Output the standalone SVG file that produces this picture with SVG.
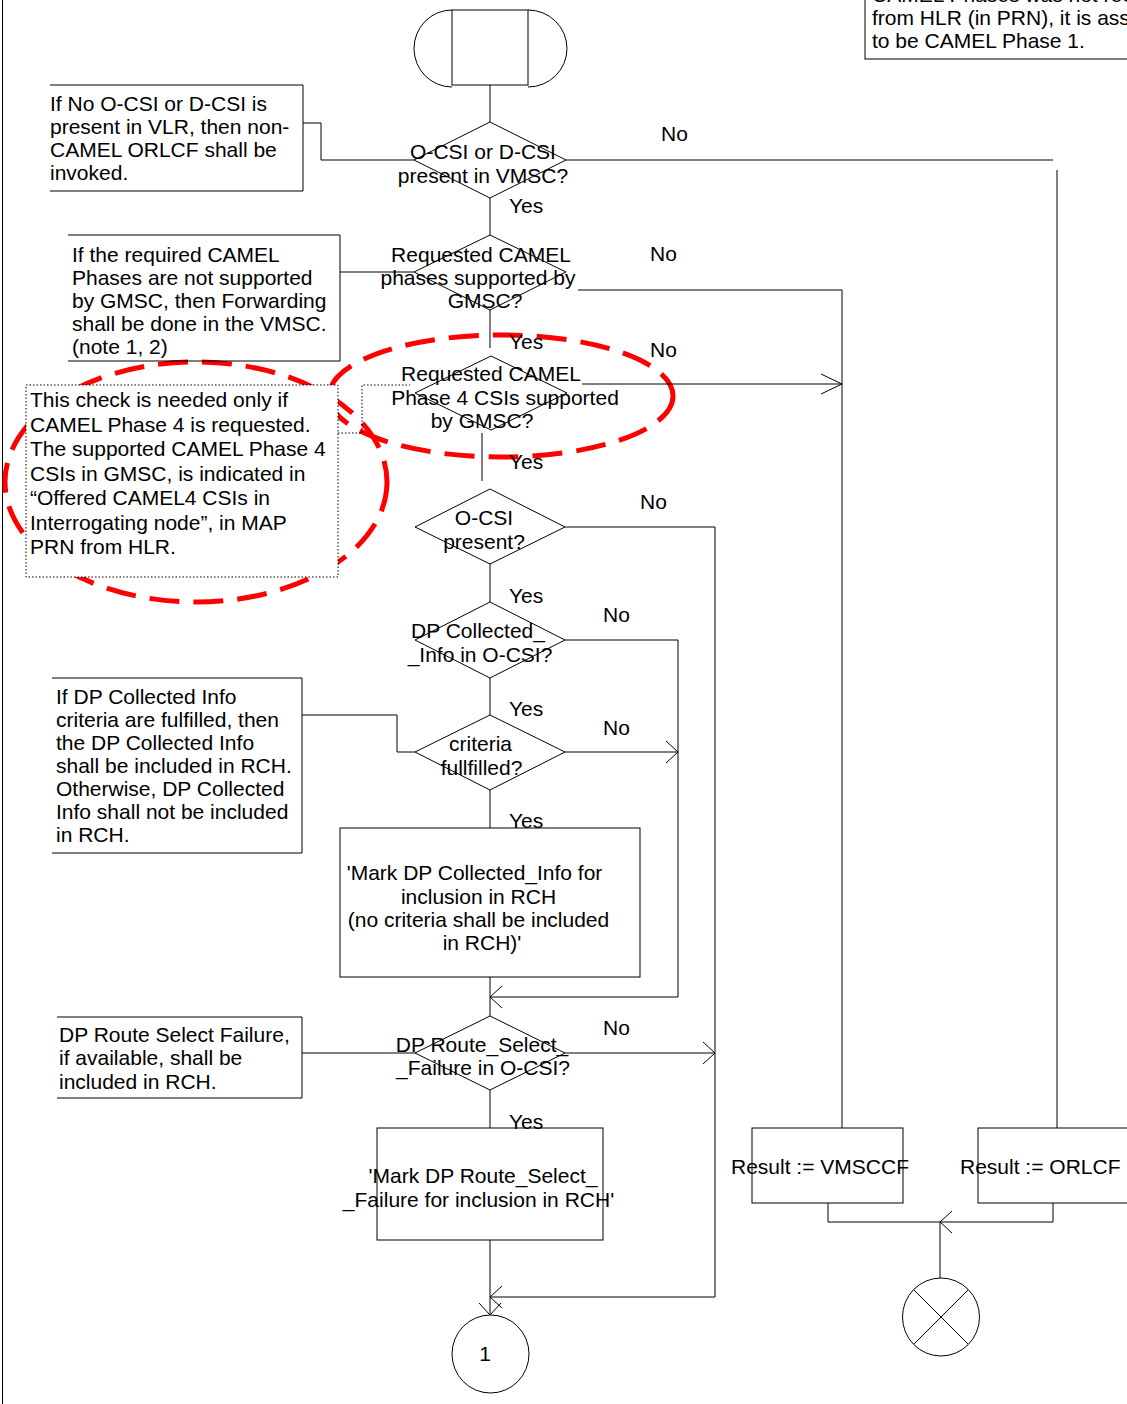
<svg xmlns="http://www.w3.org/2000/svg" width="1127" height="1404" viewBox="0 0 1127 1404">
<style>
text { font-family: "Liberation Sans", Arial, sans-serif; font-size: 21px; fill: #000; }
.m { text-anchor: middle; }
.s { fill: none; stroke: #000; stroke-width: 1; }
.dot { fill: #fff; stroke: #000; stroke-width: 1; stroke-dasharray: 1.5 2; }
.dotl { fill: none; stroke: #000; stroke-width: 1; stroke-dasharray: 1.5 2; }
.red { fill: none; stroke: #ff0000; stroke-width: 5; stroke-dasharray: 30 14; }
</style>
<defs>
<marker id="v" markerUnits="userSpaceOnUse" markerWidth="14" markerHeight="26" refX="12" refY="12" orient="auto"><path d="M0,1 L12,12 L0,23" fill="none" stroke="#000" stroke-width="1"/></marker>
<marker id="vb" markerUnits="userSpaceOnUse" markerWidth="24" markerHeight="24" refX="21" refY="11" orient="auto"><path d="M0,1 L21,11 L0,21" fill="none" stroke="#000" stroke-width="1"/></marker>
</defs>
<rect width="1127" height="1404" fill="#fff"/>
<line x1="2.5" y1="0" x2="2.5" y2="1404" class="s"/>

<g id="highlights">
<ellipse cx="501" cy="396" rx="172" ry="61" class="red"/>
<ellipse cx="196" cy="482" rx="191" ry="120" class="red"/>
</g>

<g id="connectors">
<path class="s" d="M490,85 V122"/>
<path class="s" d="M303,123 H321 V160 H414"/>
<path class="s" d="M566,160 H1053"/>
<path class="s" d="M1057,170 V1128"/>
<path class="s" d="M490,198 V235"/>
<path class="s" d="M340,272 H414"/>
<path class="s" d="M578,290 H842 V1128"/>
<path class="s" d="M490,310 V348"/>
<path class="s" d="M582,384 H842" marker-end="url(#vb)"/>
<path class="dotl" d="M338,433 H362 V385 H410"/>
<path class="s" d="M482,433 V481"/>
<path class="s" d="M565,527 H715 V1297 H490" marker-end="url(#v)"/>
<path class="s" d="M490,564 V602"/>
<path class="s" d="M565,640 H678 V997 H490" marker-end="url(#v)"/>
<path class="s" d="M490,678 V715"/>
<path class="s" d="M565,752 H678" marker-end="url(#v)"/>
<path class="s" d="M302,715 H397 V752 H415"/>
<path class="s" d="M490,790 V828"/>
<path class="s" d="M490,977 V1016"/>
<path class="s" d="M565,1053 H715" marker-end="url(#v)"/>
<path class="s" d="M302,1053 H415"/>
<path class="s" d="M490,1090 V1128"/>
<path class="s" d="M490,1240 V1315" marker-end="url(#v)"/>
<path class="s" d="M1053,1203 V1222 H940" marker-end="url(#v)"/>
<path class="s" d="M828,1203 V1222 H940 V1278"/>
</g>

<g id="labels">
<text x="661" y="141">No</text>
<text x="509" y="213">Yes</text>
<text x="650" y="261">No</text>
<text x="509" y="349">Yes</text>
<text x="650" y="357">No</text>
<text x="509" y="469">Yes</text>
<text x="640" y="509">No</text>
<text x="509" y="603">Yes</text>
<text x="603" y="622">No</text>
<text x="509" y="716">Yes</text>
<text x="603" y="735">No</text>
<text x="509" y="828">Yes</text>
<text x="603" y="1035">No</text>
<text x="509" y="1129">Yes</text>
</g>

<g id="start">
<rect x="452" y="10" width="76" height="75" class="s"/>
<path class="s" d="M452,10 A38,38.5 0 0 0 452,87"/>
<path class="s" d="M528,10 A39,38.5 0 0 1 528,87"/>
</g>

<g id="note-phase1">
<rect x="865" y="-80" width="300" height="139" class="s"/>
<text x="872" y="2">CAMEL Phases was not received</text>
<text x="872" y="25">from HLR (in PRN), it is assumed</text>
<text x="872" y="48">to be CAMEL Phase 1.</text>
</g>

<g id="note-ocsi">
<path class="s" d="M50,85 H303 V191 H50"/>
<text x="50" y="111">If No O-CSI or D-CSI is</text>
<text x="50" y="134">present in VLR, then non-</text>
<text x="50" y="157">CAMEL ORLCF shall be</text>
<text x="50" y="180">invoked.</text>
</g>

<g id="dec-csi">
<polygon class="s" points="490,122 566,160 490,198 414,160"/>
<text class="m" x="483" y="159">O-CSI or D-CSI</text>
<text class="m" x="483" y="183">present in VMSC?</text>
</g>

<g id="note-phases">
<path class="s" d="M68,235 H340 V361 H68"/>
<text x="72" y="262">If the required CAMEL</text>
<text x="72" y="285">Phases are not supported</text>
<text x="72" y="308">by GMSC, then Forwarding</text>
<text x="72" y="331">shall be done in the VMSC.</text>
<text x="72" y="354">(note 1, 2)</text>
</g>

<g id="dec-phases">
<polygon class="s" points="490,235 566,272 490,310 414,272"/>
<text class="m" x="481" y="262">Requested CAMEL</text>
<text class="m" x="478" y="285">phases supported by</text>
<text class="m" x="485" y="308">GMSC?</text>
</g>

<g id="note-check">
<rect x="26" y="385" width="312" height="192" class="dot"/>
<text x="30" y="407">This check is needed only if</text>
<text x="30" y="431.5">CAMEL Phase 4 is requested.</text>
<text x="30" y="456">The supported CAMEL Phase 4</text>
<text x="30" y="480.5">CSIs in GMSC, is indicated in</text>
<text x="30" y="505">“Offered CAMEL4 CSIs in</text>
<text x="30" y="529.5">Interrogating node”, in MAP</text>
<text x="30" y="554">PRN from HLR.</text>
</g>

<g id="dec-phase4">
<polygon class="s" points="491,356 567,393 491,430 415,393"/>
<text class="m" x="491" y="381">Requested CAMEL</text>
<text class="m" x="505" y="405">Phase 4 CSIs supported</text>
<text class="m" x="482" y="428">by GMSC?</text>
</g>

<g id="dec-ocsi">
<polygon class="s" points="490,489 565,527 490,564 415,527"/>
<text class="m" x="484" y="525">O-CSI</text>
<text class="m" x="484" y="549">present?</text>
</g>

<g id="dec-dpci">
<polygon class="s" points="490,602 565,640 490,678 415,640"/>
<text class="m" x="478" y="638">DP Collected_</text>
<text class="m" x="480" y="662">_Info in O-CSI?</text>
</g>

<g id="note-dpci">
<path class="s" d="M52,678 H302 V853 H52"/>
<text x="56" y="704">If DP Collected Info</text>
<text x="56" y="727">criteria are fulfilled, then</text>
<text x="56" y="750">the DP Collected Info</text>
<text x="56" y="773">shall be included in RCH.</text>
<text x="56" y="796">Otherwise, DP Collected</text>
<text x="56" y="819">Info shall not be included</text>
<text x="56" y="842">in RCH.</text>
</g>

<g id="dec-criteria">
<polygon class="s" points="490,715 565,752 490,790 415,752"/>
<text class="m" x="480.5" y="751">criteria</text>
<text class="m" x="481.5" y="775">fullfilled?</text>
</g>

<g id="task-mark-ci">
<rect x="340" y="828" width="300" height="149" class="s"/>
<text class="m" x="474.5" y="880">'Mark DP Collected_Info for</text>
<text class="m" x="478.5" y="904">inclusion in RCH</text>
<text class="m" x="478.5" y="927">(no criteria shall be included</text>
<text class="m" x="482" y="950">in RCH)'</text>
</g>

<g id="note-rsf">
<path class="s" d="M57,1017 H302 V1098 H57"/>
<text x="59" y="1042">DP Route Select Failure,</text>
<text x="59" y="1065">if available, shall be</text>
<text x="59" y="1089">included in RCH.</text>
</g>

<g id="dec-rsf">
<polygon class="s" points="490,1016 565,1053 490,1090 415,1053"/>
<text class="m" x="482" y="1052">DP Route_Select_</text>
<text class="m" x="483" y="1075">_Failure in O-CSI?</text>
</g>

<g id="task-mark-rsf">
<rect x="377" y="1128" width="226" height="112" class="s"/>
<text class="m" x="483" y="1183">'Mark DP Route_Select_</text>
<text class="m" x="478.5" y="1207">_Failure for inclusion in RCH'</text>
</g>

<g id="connector-1">
<ellipse cx="490.5" cy="1354" rx="38.5" ry="39" class="s"/>
<text class="m" x="485" y="1361">1</text>
</g>

<g id="result-vmsccf">
<rect x="752" y="1128" width="151" height="75" class="s"/>
<text class="m" x="820" y="1174">Result := VMSCCF</text>
</g>

<g id="result-orlcf">
<rect x="978" y="1128" width="160" height="75" class="s"/>
<text x="960" y="1174">Result := ORLCF</text>
</g>

<g id="stop">
<ellipse cx="941" cy="1317" rx="38.5" ry="39" class="s"/>
<path class="s" d="M914,1290 L968,1344 M968,1290 L914,1344"/>
</g>
</svg>
